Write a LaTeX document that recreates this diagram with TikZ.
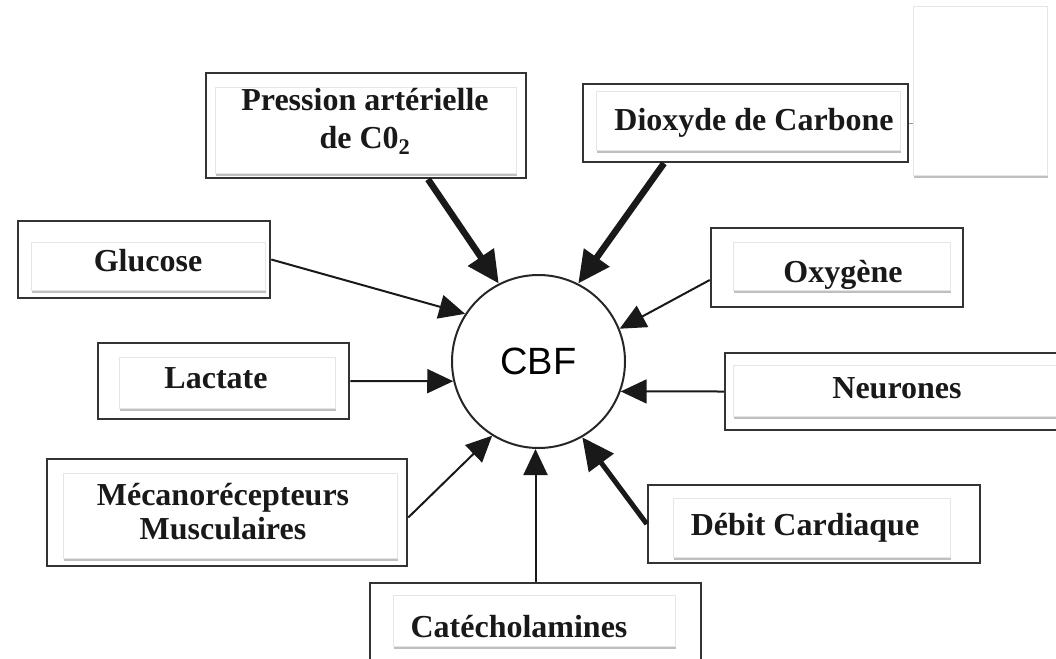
\documentclass[tikz,border=0pt]{standalone}
\usepackage{fontspec}
\setmainfont{Liberation Serif}
\newfontfamily\cbffont{Liberation Sans}
\usetikzlibrary{arrows.meta,shadows,calc}

\begin{document}
\begin{tikzpicture}[x=1pt,y=-1pt,
    frame/.style={draw=black!80,line width=2.5pt,inner sep=0pt},
    panel/.style={draw=black!10,line width=1pt,fill=white,
        drop shadow={shadow xshift=1pt,shadow yshift=-3pt,opacity=.5}},
    lbl/.style={font=\fontsize{32}{38}\selectfont\bfseries,text=black!90,
        anchor=base,align=center,inner sep=0pt},
    flow/.style={-{Triangle[length=26pt,width=24pt]},line width=2pt,draw=black!90},
    boldflow/.style={-{Triangle[length=32pt,width=30pt]},line width=6.5pt,draw=black!90}]
\useasboundingbox (0,0) rectangle (1056,658);

% Centre
\node[circle,draw=black!85,line width=2pt,minimum size=173pt,
    font=\cbffont\fontsize{38}{40}\selectfont] (cbf) at (538.5,361.5) {CBF};

% Inner panels
\draw[panel] (215,88) rectangle (516,173);
\draw[panel] (596,92) rectangle (900,150);
\draw[panel] (31,242) rectangle (265,290);
\draw[panel] (119,357) rectangle (335,408);
\draw[panel] (733,242) rectangle (950,290);
\draw[panel] (733,365) rectangle (1070,416);
\draw[panel] (63,473) rectangle (397,558);
\draw[panel] (393,595) rectangle (675,646);
\draw[panel] (673,498) rectangle (950,557);
\node[panel,minimum width=134pt,minimum height=168pt] (vide) at (980,91) {};

% Frames
\node[frame,minimum width=320pt,minimum height=105pt] (pco2) at (366,125.5) {};
\node[frame,minimum width=325pt,minimum height=78pt] (co2) at (745.5,123) {};
\node[frame,minimum width=252pt,minimum height=77pt] (glu) at (144,259.5) {};
\node[frame,minimum width=251pt,minimum height=76pt] (lac) at (223.5,381) {};
\node[frame,minimum width=252pt,minimum height=79pt] (oxy) at (837,267.5) {};
\node[frame,minimum width=345pt,minimum height=77pt] (neu) at (897.5,391.5) {};
\node[frame,minimum width=360pt,minimum height=107pt] (meca) at (227,512.5) {};
\node[frame,minimum width=331pt,minimum height=97pt] (cat) at (535.5,631.5) {};
\node[frame,minimum width=332pt,minimum height=78pt] (deb) at (814,524) {};

% Labels (base = last line)
\node[lbl] (pco2-t) at (365,148) {Pression artérielle\\de C0\textsubscript{2}};
\node[lbl] (co2-t) at (754,130) {Dioxyde de Carbone};
\node[lbl] (glu-t) at (148,271) {Glucose};
\node[lbl] (lac-t) at (216,388) {Lactate};
\node[lbl] (oxy-t) at (843,282) {Oxygène};
\node[lbl] (neu-t) at (897,398) {Neurones};
\node[lbl,font=\fontsize{32}{34}\selectfont\bfseries] (meca-t) at (223,539)
    {Mécanorécepteurs\\Musculaires};
\node[lbl] (cat-t) at (519,637) {Catécholamines};
\node[lbl] (deb-t) at (805,535) {Débit Cardiaque};

% Arrows
\draw[boldflow] ($(pco2.south)+(62,0)$) -- (cbf.117);
\draw[boldflow] ($(co2.south)+(-81.5,0)$) -- (cbf.63);
\draw[flow] (glu.east) -- (cbf.147);
\draw[flow] ($(oxy.west)+(0,12.5)$) -- (cbf.22);
\draw[flow] (lac.east) -- (cbf.193);
\draw[flow] (neu.west) -- (cbf.-20);
\draw[flow] ($(meca.east)+(0,5)$) -- (cbf.238);
\draw[flow] (cat.north) -- (cat.north |- cbf.south);
\draw[boldflow,line width=5pt] (deb.west) -- (cbf.-60);
\draw[black!40,line width=1pt] (co2.east) -- (co2.east -| vide.west);

\end{tikzpicture}
\end{document}
